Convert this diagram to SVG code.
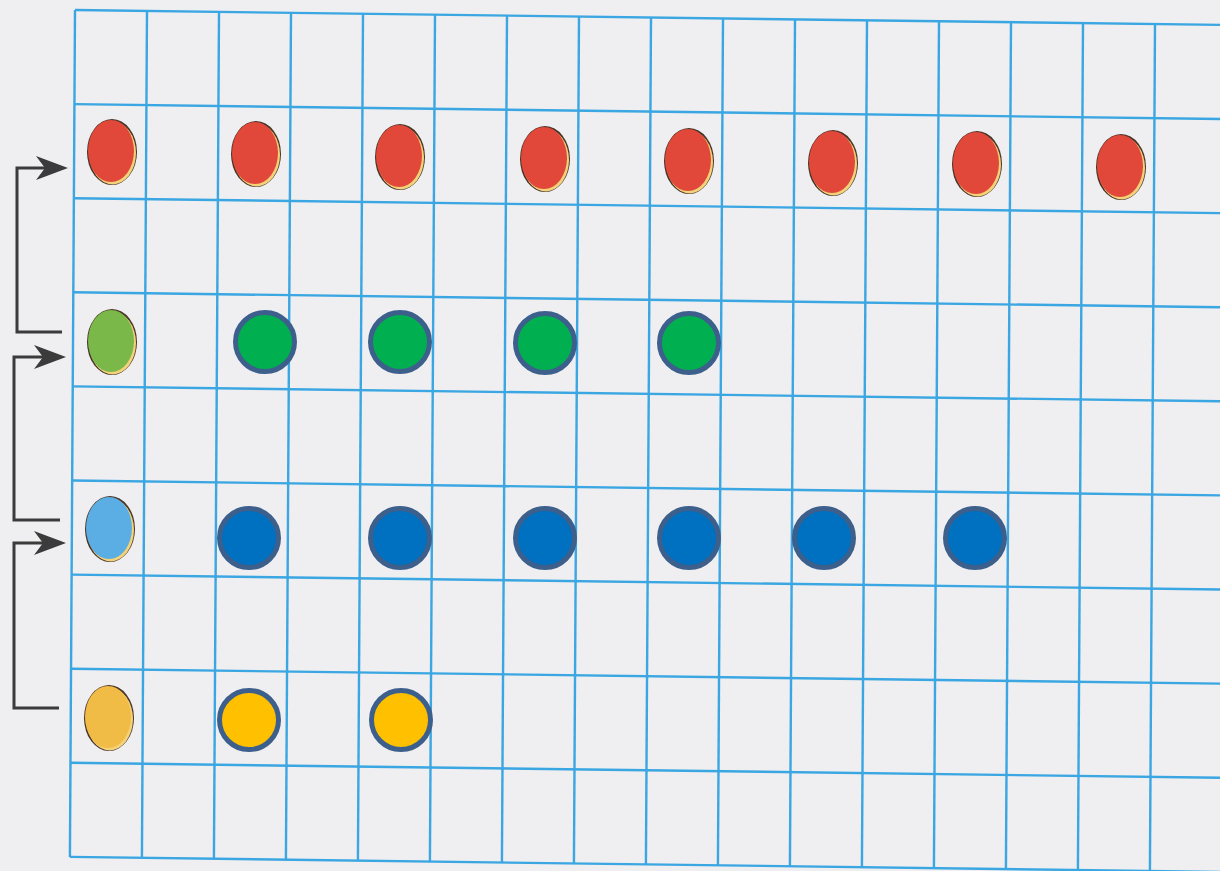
<svg xmlns="http://www.w3.org/2000/svg" width="1220" height="871" viewBox="0 0 1220 871">
<style>
.bg{fill:#efeef1}
.grid line{stroke:#3aa6e2;stroke-width:2.4}
.edge{fill:#4a3528}
.hl{fill:#f3d27a}
.red{fill:#e2483a}.lg{fill:#79b849}.lb{fill:#5aaee3}.ly{fill:#f1bc45}
.dot{stroke:#3d5f8c;stroke-width:5}
.g{fill:#00b050}.b{fill:#0070c0}.y{fill:#ffc000}
.conn path{fill:none;stroke:#3b3b3b;stroke-width:3}
</style>
<defs>
<marker id="arr" viewBox="0 0 32 24" markerWidth="32" markerHeight="24" refX="24" refY="12" orient="auto" markerUnits="userSpaceOnUse">
<path d="M0,0 L32,12 L0,24 L9,12 Z" fill="#3b3b3b"/>
</marker>
<g id="chipShape">
<ellipse cx="0" cy="0" rx="25" ry="33" class="edge"/>
<ellipse cx="0.6" cy="1" rx="23.4" ry="31.4" class="hl"/>
</g>
</defs>
<rect class="bg" x="0" y="0" width="1220" height="871"/>
<g id="grid" class="grid" transform="matrix(1,0.013,-0.006,1,75,10)">
<line x1="0" y1="0" x2="1170" y2="0"/>
<line x1="0" y1="94.1" x2="1170" y2="94.1"/>
<line x1="0" y1="188.2" x2="1170" y2="188.2"/>
<line x1="0" y1="282.3" x2="1170" y2="282.3"/>
<line x1="0" y1="376.4" x2="1170" y2="376.4"/>
<line x1="0" y1="470.5" x2="1170" y2="470.5"/>
<line x1="0" y1="564.6" x2="1170" y2="564.6"/>
<line x1="0" y1="658.7" x2="1170" y2="658.7"/>
<line x1="0" y1="752.8" x2="1170" y2="752.8"/>
<line x1="0" y1="846.9" x2="1170" y2="846.9"/>
<line x1="0" y1="0" x2="0" y2="847"/>
<line x1="72" y1="0" x2="72" y2="847"/>
<line x1="144" y1="0" x2="144" y2="847"/>
<line x1="216" y1="0" x2="216" y2="847"/>
<line x1="288" y1="0" x2="288" y2="847"/>
<line x1="360" y1="0" x2="360" y2="847"/>
<line x1="432" y1="0" x2="432" y2="847"/>
<line x1="504" y1="0" x2="504" y2="847"/>
<line x1="576" y1="0" x2="576" y2="847"/>
<line x1="648" y1="0" x2="648" y2="847"/>
<line x1="720" y1="0" x2="720" y2="847"/>
<line x1="792" y1="0" x2="792" y2="847"/>
<line x1="864" y1="0" x2="864" y2="847"/>
<line x1="936" y1="0" x2="936" y2="847"/>
<line x1="1008" y1="0" x2="1008" y2="847"/>
<line x1="1080" y1="0" x2="1080" y2="847"/>
</g>
<g id="connectors" class="conn">
<path d="M62,332 H17 V168 H60" marker-end="url(#arr)"/>
<path d="M60,520 H14 V357 H58" marker-end="url(#arr)"/>
<path d="M59,708 H14 V543 H58" marker-end="url(#arr)"/>
</g>
<g id="red-row">
<g id="red-1" transform="translate(112,152)"><use href="#chipShape"/><ellipse cx="-1" cy="-1" rx="23" ry="31" class="red"/></g>
<g id="red-2" transform="translate(256,154)"><use href="#chipShape"/><ellipse cx="-1" cy="-1" rx="23" ry="31" class="red"/></g>
<g id="red-3" transform="translate(400,157)"><use href="#chipShape"/><ellipse cx="-1" cy="-1" rx="23" ry="31" class="red"/></g>
<g id="red-4" transform="translate(545,159)"><use href="#chipShape"/><ellipse cx="-1" cy="-1" rx="23" ry="31" class="red"/></g>
<g id="red-5" transform="translate(689,161)"><use href="#chipShape"/><ellipse cx="-1" cy="-1" rx="23" ry="31" class="red"/></g>
<g id="red-6" transform="translate(833,163)"><use href="#chipShape"/><ellipse cx="-1" cy="-1" rx="23" ry="31" class="red"/></g>
<g id="red-7" transform="translate(977,164)"><use href="#chipShape"/><ellipse cx="-1" cy="-1" rx="23" ry="31" class="red"/></g>
<g id="red-8" transform="translate(1121,167)"><use href="#chipShape"/><ellipse cx="-1" cy="-1" rx="23" ry="31" class="red"/></g>
</g>
<g id="green-row">
<g id="green-chip" transform="translate(112,342)"><use href="#chipShape"/><ellipse cx="-1" cy="-1" rx="23" ry="31" class="lg"/></g>
<g id="green-1"><circle cx="265" cy="342" r="29.5" class="dot g"/></g>
<g id="green-2"><circle cx="400" cy="342" r="29.5" class="dot g"/></g>
<g id="green-3"><circle cx="545" cy="343" r="29.5" class="dot g"/></g>
<g id="green-4"><circle cx="689" cy="343" r="29.5" class="dot g"/></g>
</g>
<g id="blue-row">
<g id="blue-chip" transform="translate(110,529)"><use href="#chipShape"/><ellipse cx="-1" cy="-1" rx="23" ry="31" class="lb"/></g>
<g id="blue-1"><circle cx="249" cy="538" r="29.5" class="dot b"/></g>
<g id="blue-2"><circle cx="400" cy="538" r="29.5" class="dot b"/></g>
<g id="blue-3"><circle cx="545" cy="538" r="29.5" class="dot b"/></g>
<g id="blue-4"><circle cx="689" cy="538" r="29.5" class="dot b"/></g>
<g id="blue-5"><circle cx="824" cy="538" r="29.5" class="dot b"/></g>
<g id="blue-6"><circle cx="975" cy="538" r="29.5" class="dot b"/></g>
</g>
<g id="yellow-row">
<g id="yellow-chip" transform="translate(109,718)"><use href="#chipShape"/><ellipse cx="-1" cy="-1" rx="23" ry="31" class="ly"/></g>
<g id="yellow-1"><circle cx="249" cy="720" r="29.5" class="dot y"/></g>
<g id="yellow-2"><circle cx="401" cy="720" r="29.5" class="dot y"/></g>
</g>
</svg>
